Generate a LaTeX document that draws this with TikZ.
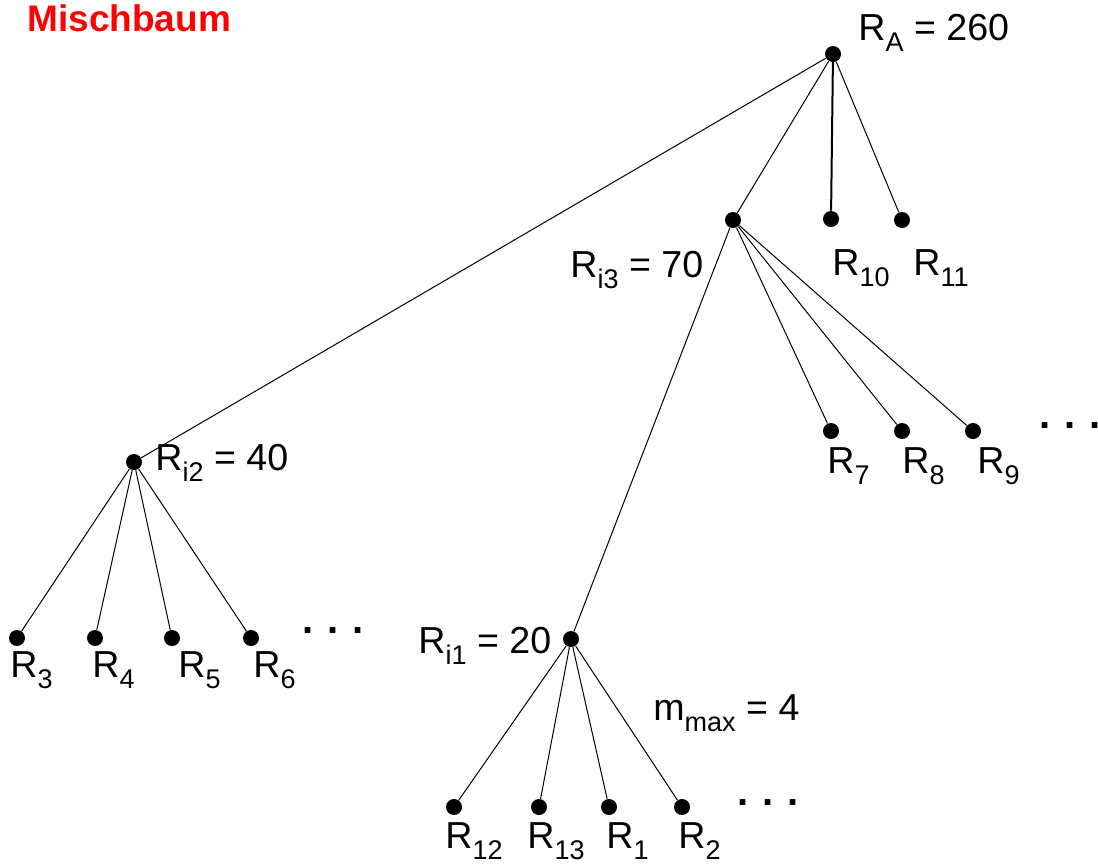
\documentclass[tikz,border=0pt]{standalone}
\usepackage{fontspec}
\setmainfont{Liberation Sans}
\newcommand{\tief}[1]{\raisebox{-5.5pt}{\fontsize{13.5}{14}\selectfont #1}}
\newcommand{\punkte}{\makebox[12.5pt][l]{.}\makebox[12.5pt][l]{.}.}
\tikzset{
  punkt/.style={circle,fill=black,inner sep=0pt,minimum size=8pt},
  kante/.style={line width=0.5pt},
  beschr/.style={anchor=base west,inner sep=0pt,font=\fontsize{18.8}{20}\selectfont},
  weiter/.style={anchor=west,inner sep=0pt,font=\fontsize{20}{20}\selectfont\bfseries}
}
\begin{document}
\begin{tikzpicture}[x=0.5pt,y=-0.5pt]
  \useasboundingbox (0,0) rectangle (1098,864);
  % Knoten (Pixelkoordinaten des Originals)
  \node[punkt] (ra)  at (833,54)  {};
  \node[punkt] (ri3) at (733,220) {};
  \node[punkt] (r10) at (831,219) {};
  \node[punkt] (r11) at (902,220) {};
  \node[punkt] (ri2) at (134,462) {};
  \node[punkt] (r7)  at (831,431) {};
  \node[punkt] (r8)  at (902,431) {};
  \node[punkt] (r9)  at (973,431) {};
  \node[punkt] (r3)  at (17,638)  {};
  \node[punkt] (r4)  at (95,638)  {};
  \node[punkt] (r5)  at (172,638) {};
  \node[punkt] (r6)  at (251,638) {};
  \node[punkt] (ri1) at (571,639) {};
  \node[punkt] (r12) at (454,807) {};
  \node[punkt] (r13) at (539,807) {};
  \node[punkt] (r1)  at (609,807) {};
  \node[punkt] (r2)  at (682,807) {};
  % Kanten
  \draw[kante] (ra) -- (ri2);
  \draw[kante] (ra) -- (ri3);
  \draw[line width=1pt] (ra.center) -- (r10);
  \draw[kante] (ra) -- (r11);
  \foreach \k in {ri1,r7,r8,r9} \draw[kante] (ri3) -- (\k);
  \foreach \k in {r3,r4,r5,r6} \draw[kante] (ri2) -- (\k);
  \foreach \k in {r12,r13,r1,r2} \draw[kante] (ri1) -- (\k);
  % Beschriftungen
  \node[beschr,text=red,font=\fontsize{18.5}{20}\selectfont\bfseries] (titel) at (27,31) {Mischbaum};
  \node[beschr] (lra)  at (858,40)  {R\tief{A} = 260};
  \node[beschr] (lri3) at (570,277) {R\tief{i3} = 70};
  \node[beschr] (lri2) at (155,470) {R\tief{i2} = 40};
  \node[beschr] (lri1) at (418,653) {R\tief{i1} = 20};
  \node[beschr] (lm)   at (653,720) {m\tief{max} = 4};
  \node[beschr] (l10) at (832,275) {R\tief{10}};
  \node[beschr] (l11) at (913,275) {R\tief{11}};
  \node[beschr] (l7)  at (827,473) {R\tief{7}};
  \node[beschr] (l8)  at (902,473) {R\tief{8}};
  \node[beschr] (l9)  at (977,473) {R\tief{9}};
  \node[beschr] (l3)  at (10,677)  {R\tief{3}};
  \node[beschr] (l4)  at (92,677)  {R\tief{4}};
  \node[beschr] (l5)  at (178,677) {R\tief{5}};
  \node[beschr] (l6)  at (253,677) {R\tief{6}};
  \node[beschr] (l12) at (445,848) {R\tief{12}};
  \node[beschr] (l13) at (527,848) {R\tief{13}};
  \node[beschr] (l1)  at (606,848) {R\tief{1}};
  \node[beschr] (l2)  at (678,848) {R\tief{2}};
  % weitere Blaetter
  \node[weiter] (w1) at (1039,426) {\punkte};
  \node[weiter] (w2) at (302,631)  {\punkte};
  \node[weiter] (w3) at (737,803)  {\punkte};
\end{tikzpicture}
\end{document}
